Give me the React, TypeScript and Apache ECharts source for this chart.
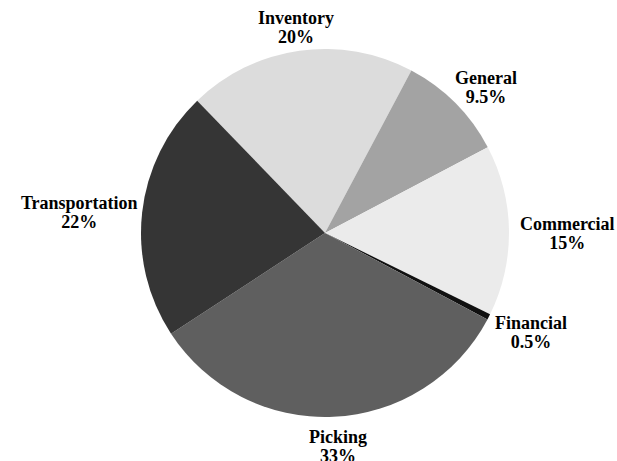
import React, { useEffect, useRef } from "react";
import * as echarts from "echarts";

const categories = ["Inventory", "General", "Commercial", "Financial", "Picking", "Transportation"];
const shares = [20, 9.5, 15, 0.5, 33, 22];
const sliceColors = ["#dcdcdc", "#a3a3a3", "#ebebeb", "#111111", "#5f5f5f", "#353535"];

const CX = 325;
const CY = 233;
const R = 184;
const START = 134;
const GAP = 8;
const SHIFT_X = 3;
const SHIFT_Y = 3;

export default function App() {
  const ref = useRef<HTMLDivElement>(null);
  useEffect(() => {
    if (!ref.current) return;
    const chart = echarts.init(ref.current, null, { renderer: "svg" });
    const total = shares.reduce((a, b) => a + b, 0);
    const mids: number[] = [];
    let cum = 0;
    shares.forEach((v) => {
      const deg = -(START - 90) + (360 * (cum + v / 2)) / total;
      mids.push((deg * Math.PI) / 180);
      cum += v;
    });
    chart.setOption({
      animation: false,
      backgroundColor: "#ffffff",
      series: [
        {
          type: "pie",
          center: [CX, CY],
          radius: [0, R],
          startAngle: START,
          clockwise: true,
          avoidLabelOverlap: false,
          data: categories.map((name, i) => ({
            name,
            value: shares[i],
            itemStyle: { color: sliceColors[i] },
          })),
          itemStyle: { borderWidth: 0 },
          emphasis: { disabled: true },
          label: {
            show: true,
            position: "outside",
            formatter: "{b}\n{c}%",
            fontFamily: "'Liberation Serif', 'DejaVu Serif', serif",
            fontWeight: "bold",
            fontSize: 18,
            lineHeight: 19,
            color: "#000",
            align: "center",
          },
          labelLine: { show: false, length: 0, length2: 0 },
          labelLayout: (params: any) => {
            const a = mids[params.dataIndex];
            const ux = Math.sin(a);
            const uy = -Math.cos(a);
            const w = params.labelRect.width;
            const h = params.labelRect.height;
            const px = CX + (R + GAP) * ux;
            const py = CY + (R + GAP) * uy;
            return {
              x: px + (w / 2) * ux + SHIFT_X,
              y: py + (h / 2) * uy + SHIFT_Y,
              align: "center",
              verticalAlign: "middle",
            };
          },
        },
      ],
    });
    return () => chart.dispose();
  }, []);
  return (
    <div
      ref={ref}
      style={{ position: "fixed", left: 0, top: 0, width: 617, height: 461 }}
    />
  );
}
